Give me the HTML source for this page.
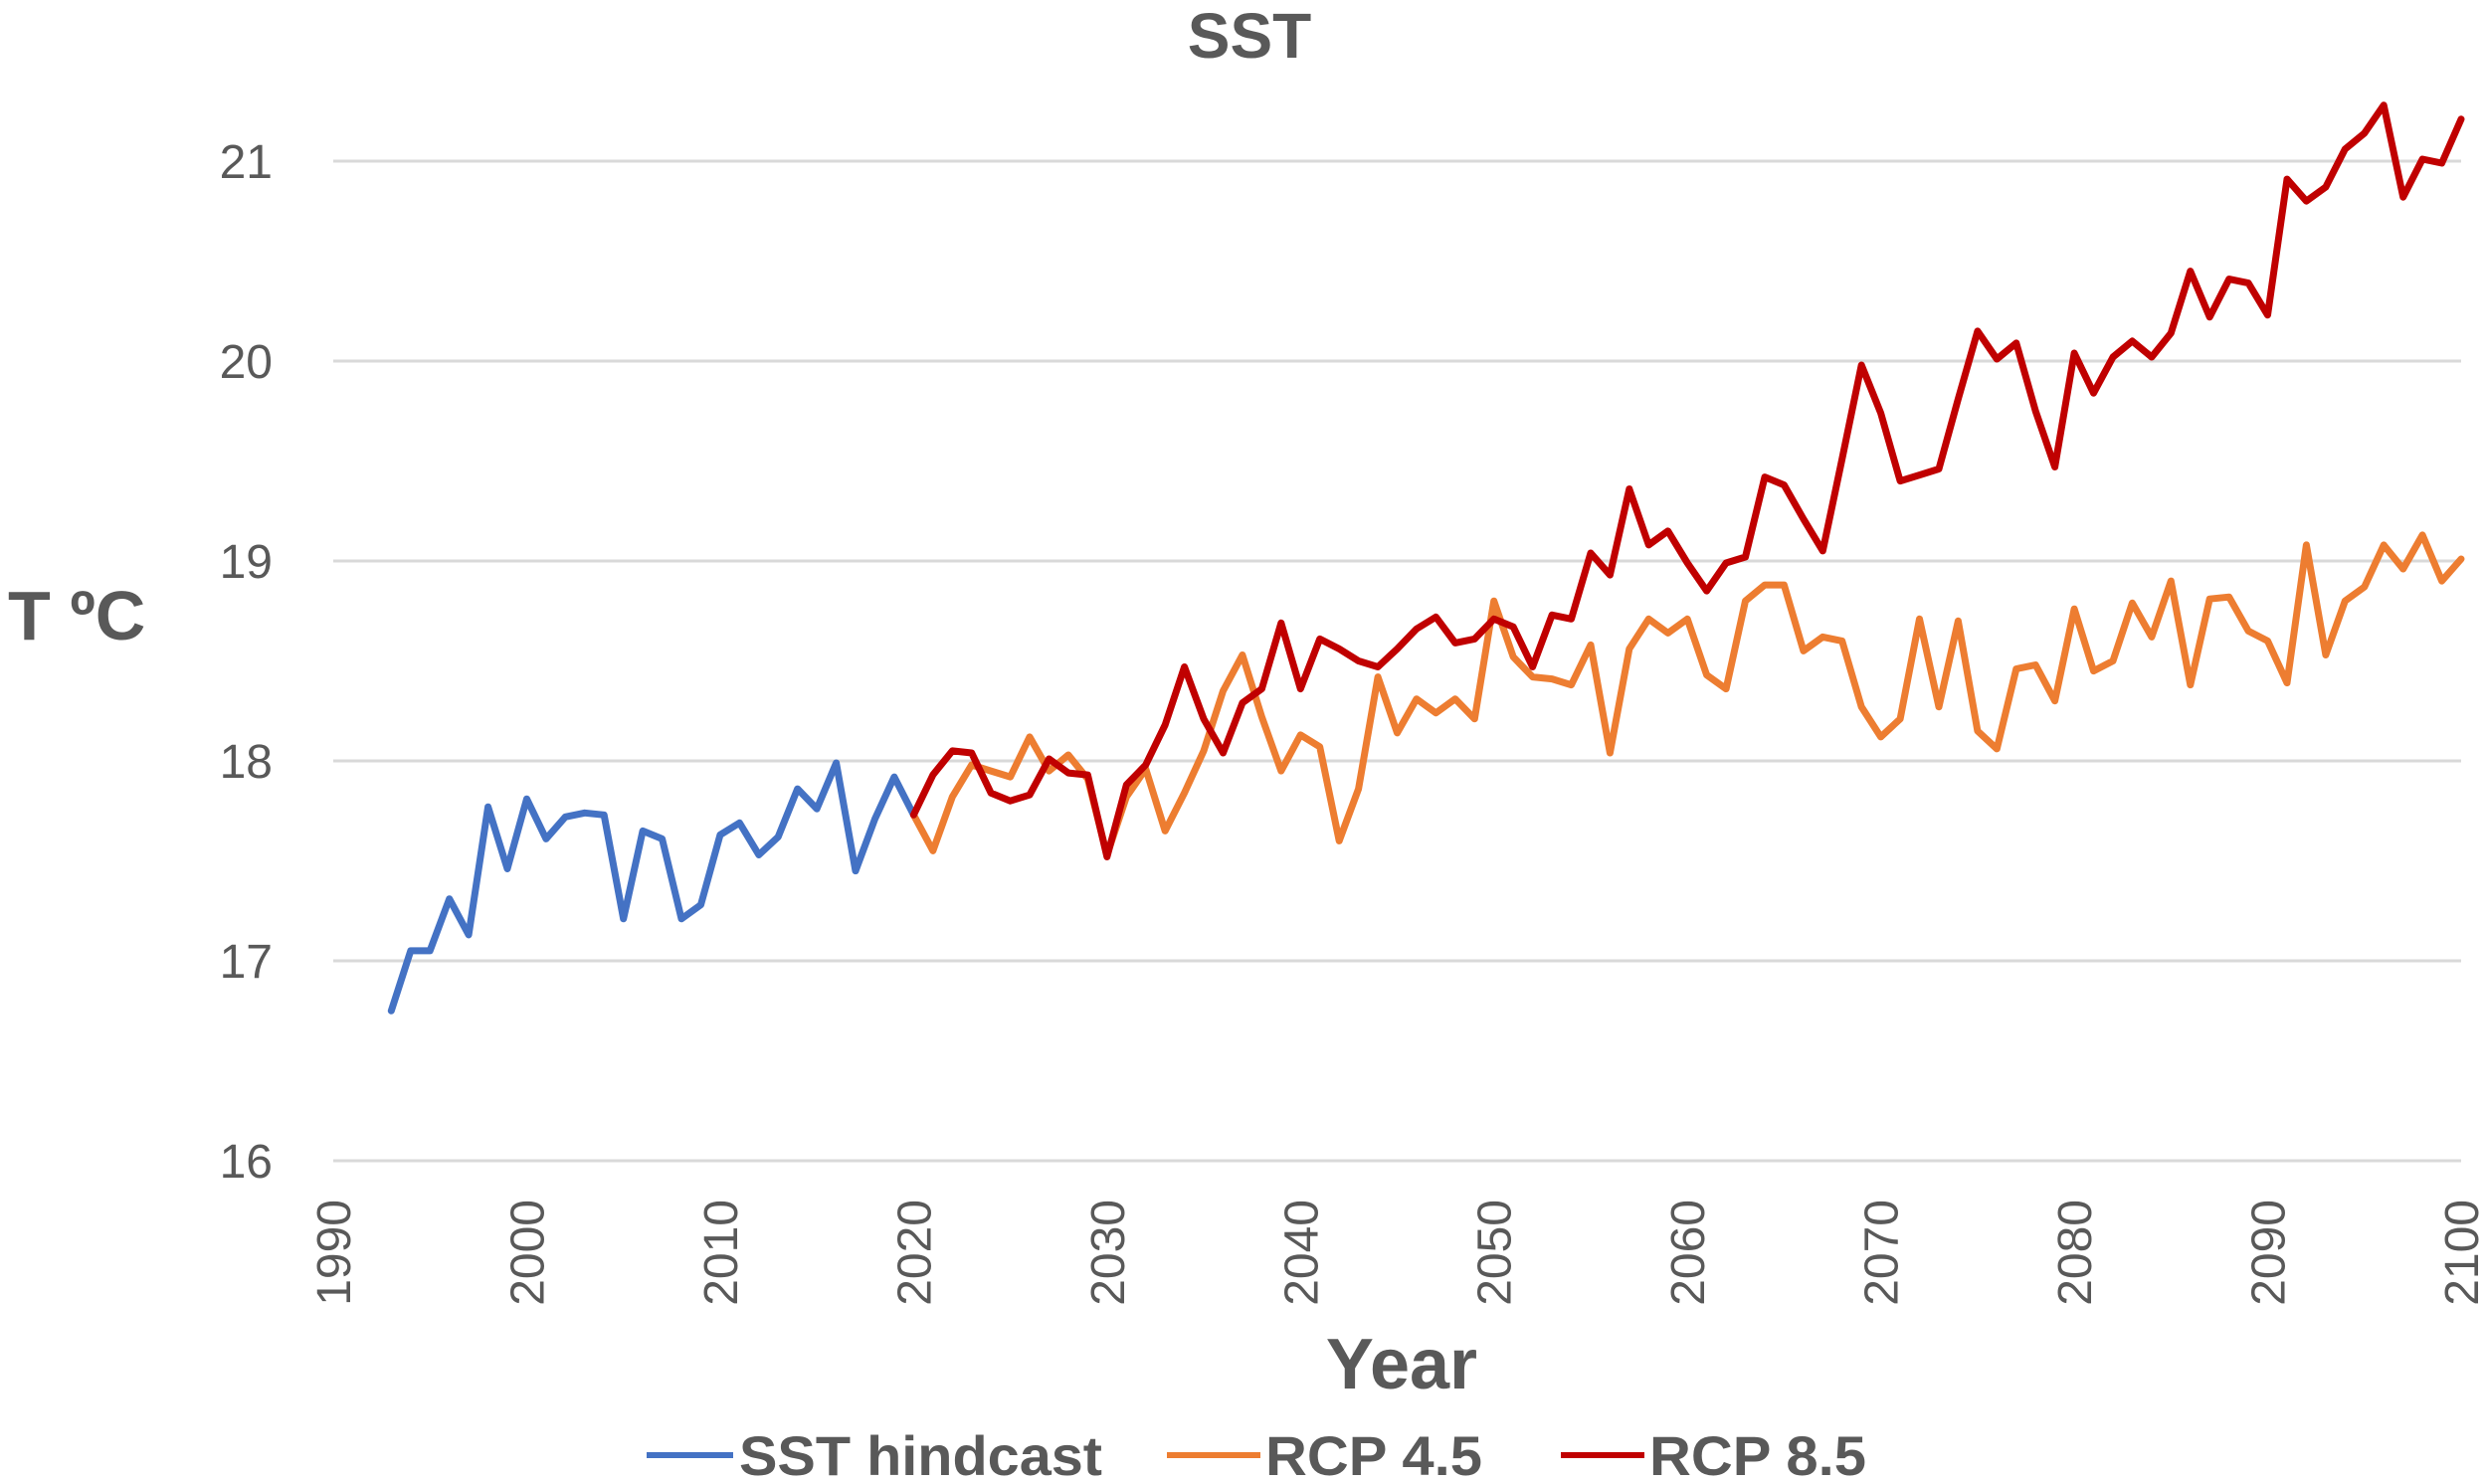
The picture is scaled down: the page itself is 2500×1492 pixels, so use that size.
<!DOCTYPE html>
<html><head><meta charset="utf-8"><style>
html,body{margin:0;padding:0;background:#fff;}
svg{display:block;font-family:"Liberation Sans",sans-serif;}
</style></head><body>
<svg id="chart" width="2500" height="1492" viewBox="0 0 2500 1492">
<text x="1256" y="58" text-anchor="middle" font-size="64" font-weight="bold" fill="#595959">SST</text>
<text x="8" y="643" font-size="70" font-weight="bold" fill="#595959">T ºC</text>
<text x="1409" y="1396" text-anchor="middle" font-size="72" font-weight="bold" fill="#595959">Year</text>
<g id="grid"></g><g id="yticks"></g><g id="xticks"></g><g id="series"></g>
<g>
<line x1="650" y1="1463" x2="737" y2="1463" stroke="#4472C4" stroke-width="6"/>
<text x="743" y="1483" font-size="56" font-weight="bold" fill="#595959" textLength="365" lengthAdjust="spacingAndGlyphs">SST hindcast</text>
<line x1="1173" y1="1463" x2="1267" y2="1463" stroke="#ED7D31" stroke-width="6"/>
<text x="1272" y="1483" font-size="56" font-weight="bold" fill="#595959" textLength="218" lengthAdjust="spacingAndGlyphs">RCP 4.5</text>
<line x1="1569" y1="1463" x2="1653" y2="1463" stroke="#C00000" stroke-width="6"/>
<text x="1658" y="1483" font-size="56" font-weight="bold" fill="#595959" textLength="218" lengthAdjust="spacingAndGlyphs">RCP 8.5</text>
</g>
</svg>
<script>
const yTicks = [16, 17, 18, 19, 20, 21];
const xTicks = [1990, 2000, 2010, 2020, 2030, 2040, 2050, 2060, 2070, 2080, 2090, 2100];
const hindcastStart = 1993;
const hindcast = [16.75,17.05,17.05,17.31,17.13,17.77,17.46,17.81,17.61,17.72,17.74,17.73,17.21,17.65,17.61,17.21,17.28,17.63,17.69,17.53,17.62,17.86,17.76,17.99,17.45,17.71,17.92,17.73];
const rcpStart = 2020;
const rcp45 = [17.73,17.55,17.82,17.98,17.95,17.92,18.12,17.95,18.03,17.91,17.53,17.82,17.96,17.65,17.84,18.05,18.35,18.53,18.22,17.95,18.13,18.07,17.60,17.86,18.42,18.14,18.31,18.24,18.31,18.21,18.80,18.52,18.42,18.41,18.38,18.58,18.04,18.56,18.71,18.64,18.71,18.43,18.36,18.80,18.88,18.88,18.55,18.62,18.60,18.27,18.12,18.21,18.71,18.27,18.70,18.15,18.06,18.46,18.48,18.30,18.76,18.45,18.50,18.79,18.62,18.90,18.38,18.81,18.82,18.65,18.60,18.39,19.08,18.53,18.80,18.87,19.08,18.96,19.13,18.90,19.01];
const rcp85 = [17.73,17.93,18.05,18.04,17.84,17.80,17.83,18.01,17.94,17.93,17.52,17.88,17.98,18.18,18.47,18.21,18.04,18.29,18.36,18.69,18.36,18.61,18.56,18.50,18.47,18.56,18.66,18.72,18.59,18.61,18.71,18.67,18.47,18.73,18.71,19.04,18.93,19.36,19.08,19.15,18.99,18.85,18.99,19.02,19.42,19.38,19.21,19.05,19.51,19.98,19.74,19.40,19.43,19.46,19.81,20.15,20.01,20.09,19.75,19.47,20.04,19.84,20.02,20.10,20.02,20.14,20.45,20.22,20.41,20.39,20.23,20.91,20.80,20.87,21.06,21.14,21.28,20.82,21.01,20.99,21.21];

const NS = "http://www.w3.org/2000/svg";
const X0 = 335, X1 = 2474, Y16 = 1167, PXD = 201;
function xs(yr){ return X0 + (yr - 1990) * (X1 - X0) / 110; }
function ys(v){ return Y16 - (v - 16) * PXD; }
function mk(tag, attrs, parent){ const e = document.createElementNS(NS, tag); for (const k in attrs) e.setAttribute(k, attrs[k]); parent.appendChild(e); return e; }

const grid = document.getElementById('grid');
const yt = document.getElementById('yticks');
yTicks.forEach(v => {
  const l = mk('line', {x1:X0, x2:X1, y1:ys(v), y2:ys(v), stroke:'#d9d9d9', 'stroke-width':3}, grid);
  
  
  const t = mk('text', {x:274, y:ys(v)+17, 'text-anchor':'end', 'font-size':48, fill:'#595959'}, yt);
  t.textContent = v;
  
  
});
const xt = document.getElementById('xticks');
xTicks.forEach(yr => {
  const x = xs(yr) + 17;
  const t = mk('text', {x:x, y:1206, 'text-anchor':'end', 'font-size':48, fill:'#595959', transform:'rotate(-90 ' + x + ' 1206)'}, xt);
  t.textContent = yr;
  
  
});
const sg = document.getElementById('series');
function drawLine(vals, start, color, name){
  const pts = vals.map((v, i) => xs(start + i).toFixed(1) + ',' + ys(v).toFixed(1)).join(' ');
  const p = mk('polyline', {points:pts, fill:'none', stroke:color, 'stroke-width':7, 'stroke-linejoin':'round', 'stroke-linecap':'round'}, sg);
  
  
}
drawLine(hindcast, hindcastStart, '#4472C4', 'sst-hindcast-line');
drawLine(rcp45, rcpStart, '#ED7D31', 'rcp45-line');
drawLine(rcp85, rcpStart, '#C00000', 'rcp85-line');
</script>
</body></html>
